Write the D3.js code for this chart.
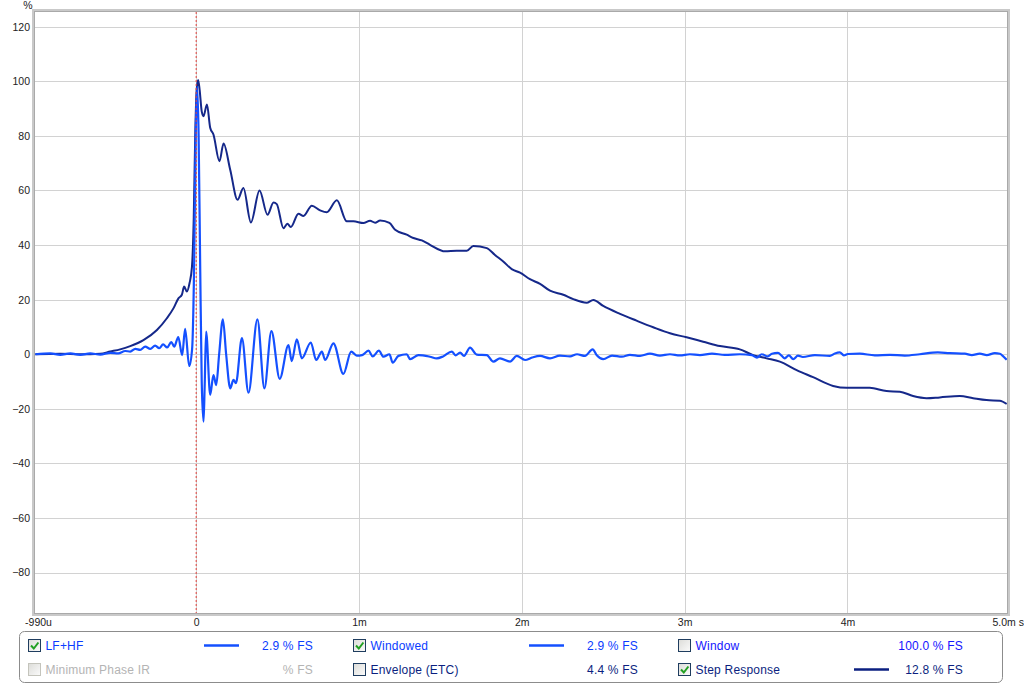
<!DOCTYPE html>
<html><head><meta charset="utf-8">
<script src="https://cdn.jsdelivr.net/npm/d3@7"></script>
<style>body{margin:0;background:#fff;} svg{display:block;font-family:"Liberation Sans",Arial,sans-serif;}</style>
</head><body><svg id="chart" width="1024" height="684"></svg>
<script>
// ---- data (time in ms, value in %) ----
const impulseT = [-0.988,-0.896,-0.835,-0.773,-0.712,-0.651,-0.589,-0.528,-0.479,-0.436,-0.405,-0.374,-0.344,-0.313,-0.282,-0.252,-0.227,-0.203,-0.178,-0.153,-0.135,-0.110,-0.086,-0.068,-0.043,-0.025,-0.012,-0.003,0.006,0.015,0.025,0.034,0.045,0.052,0.061,0.086,0.106,0.123,0.141,0.164,0.184,0.209,0.229,0.244,0.281,0.321,0.376,0.419,0.462,0.513,0.567,0.587,0.618,0.649,0.704,0.737,0.772,0.792,0.843,0.904,0.952,0.986,1.019,1.058,1.084,1.122,1.150,1.187,1.207,1.242,1.293,1.314,1.365,1.436,1.478,1.516,1.570,1.593,1.621,1.645,1.682,1.723,1.785,1.825,1.866,1.928,1.969,2.020,2.063,2.112,2.173,2.234,2.296,2.339,2.388,2.435,2.462,2.500,2.554,2.615,2.664,2.726,2.787,2.848,2.910,2.971,3.032,3.094,3.168,3.247,3.339,3.413,3.444,3.474,3.511,3.536,3.573,3.597,3.615,3.640,3.667,3.696,3.726,3.800,3.892,3.923,3.953,3.978,4.002,4.076,4.168,4.260,4.352,4.444,4.555,4.628,4.721,4.764,4.813,4.856,4.905,4.936,4.954,4.978];
const impulseV = [0,0.3,-0.2,0.3,-0.2,0.3,-0.1,0.5,0.3,1.2,1.0,2.0,1.6,2.8,2.0,3.2,2.2,3.6,2.5,4.5,2.8,6.3,-0.3,9.3,-4.3,2,35,80,98,80,30,-10,-24.7,-12,8.3,-14.9,-7.6,-11.3,0,12.8,0,-12.5,-9.4,-10.6,5.9,-14.1,12.8,-12.5,8.5,-9.0,3.4,-2.5,5.5,-1.5,4.3,-2.1,1.0,-2.1,4.0,-7.2,1.0,-0.5,-0.3,1.3,-0.8,1.3,-0.9,0,-3.1,-0.6,0,-1.8,-0.3,-0.9,-1.5,-0.8,1.0,-0.4,0.6,-0.6,2.4,-0.1,-0.3,-2.7,-1.5,-2.7,-0.6,-2.1,-1.2,-0.6,-1.5,-0.5,-0.8,0,-0.6,1.8,-0.5,-1.8,-0.5,-0.9,-0.2,-0.6,0.2,-0.5,0,-0.4,0,-0.3,0.2,-0.2,0,-0.3,-1.2,0,-0.8,0.2,0.5,-0.6,-1.5,-0.4,-1.8,-0.5,-1.0,-0.3,-0.6,0.3,0.7,-0.4,0.1,0.2,-0.4,-0.2,-0.5,0,0.7,0.4,0.2,-0.3,0.2,-0.3,0.4,0.2,-0.6,-2.0];
const stepT = [-0.988,-0.835,-0.712,-0.589,-0.528,-0.467,-0.405,-0.324,-0.241,-0.180,-0.139,-0.109,-0.088,-0.074,-0.057,-0.041,-0.026,-0.015,-0.006,0.003,0.012,0.021,0.034,0.045,0.066,0.086,0.106,0.143,0.168,0.209,0.254,0.290,0.336,0.389,0.438,0.475,0.495,0.536,0.560,0.581,0.628,0.659,0.710,0.761,0.802,0.864,0.925,0.966,1.027,1.068,1.099,1.130,1.187,1.222,1.293,1.334,1.386,1.436,1.529,1.600,1.662,1.702,1.785,1.835,1.886,1.938,1.989,2.050,2.112,2.173,2.255,2.316,2.398,2.439,2.500,2.603,2.705,2.807,2.910,3.012,3.114,3.217,3.339,3.421,3.503,3.585,3.688,3.789,3.912,3.994,4.137,4.240,4.322,4.403,4.486,4.567,4.690,4.772,4.854,4.936,4.978];
const stepV = [0,0.2,0,0.2,1,1.8,3,5.2,8.9,13.2,16.9,20.5,21.8,24.8,23,26,32,50,80,97,100.5,97,89,87.2,91.5,83,80.5,70.7,77.2,67.6,56.6,60.9,48.3,60.0,51.1,55.6,55,46.2,47.8,46.6,51.5,50.7,54.4,52.7,52.0,56.4,48.7,48.7,48.1,48.9,48.2,49,48.1,45.6,43.8,42.6,41.7,40.1,37.7,37.9,37.9,39.7,38.9,36.4,34,31.2,29.9,27.5,25.8,23.3,21.8,20.2,18.9,19.9,17.7,14.8,12.3,9.9,7.7,6.2,4.6,3.0,1.8,-0.3,-1.5,-2.7,-5.8,-8.4,-11.6,-12.3,-12.3,-13.5,-13.7,-15.3,-16.1,-15.8,-15.3,-16.1,-16.8,-17,-18.2];
const yTicks = [-80,-60,-40,-20,0,20,40,60,80,100,120];
const xTicks = [-0.99,0,1,2,3,4,4.98];
const xTickLabels = ["-990u","0","1m","2m","3m","4m","5.0m s"];
const legendLabels = ["LF+HF","Minimum Phase IR","Windowed","Envelope (ETC)","Window","Step Response"];
const legendValues = ["2.9 % FS","% FS","2.9 % FS","4.4 % FS","100.0 % FS","12.8 % FS"];
const legendChecked = [true,false,true,false,false,true];

// ---- layout & styles ----
const L = 35, T = 12, R = 1007, B = 613;
const svg = d3.select("#chart");
const x = d3.scaleLinear().domain([-0.99, 4.98]).range([L, R]);
const y = d3.scaleLinear().domain([-94.8, 125.4]).range([B, T]);
const blue = "#1450ff", navy = "#15288a";

// gridlines
const grid = svg.append("g");
grid.selectAll("line.h").data(yTicks).join("line")
  .attr("x1", L).attr("x2", R).attr("y1", d => Math.round(y(d)) + 0.5).attr("y2", d => Math.round(y(d)) + 0.5)
  .attr("stroke", "#d2d2d2").attr("stroke-width", 1);
grid.selectAll("line.v").data(xTicks.slice(1, 6)).join("line")
  .attr("y1", T).attr("y2", B).attr("x1", d => Math.round(x(d)) + 0.5).attr("x2", d => Math.round(x(d)) + 0.5)
  .attr("stroke", "#d2d2d2").attr("stroke-width", 1);

// axis labels via d3 axes
const yAxis = d3.axisLeft(y).tickValues(yTicks).tickSize(0).tickPadding(4).tickFormat(d3.format("d"));
const gy = svg.append("g").attr("transform", `translate(${L - 1},0)`).call(yAxis);
gy.select(".domain").remove();
gy.selectAll("text").attr("font-size", 10.5).attr("fill", "#222").attr("font-family", "Liberation Sans, Arial, sans-serif");

const xAxis = d3.axisBottom(x).tickValues(xTicks).tickSize(0).tickPadding(6)
  .tickFormat((d, i) => xTickLabels[i]);
const gx = svg.append("g").attr("transform", `translate(0,${B})`).call(xAxis);
gx.select(".domain").remove();
gx.selectAll("text").attr("font-size", 10.5).attr("fill", "#222").attr("font-family", "Liberation Sans, Arial, sans-serif");
gx.selectAll(".tick").filter((d, i) => i === 0).select("text").attr("dx", 3);
gx.selectAll(".tick").filter((d, i) => i === xTicks.length - 1).select("text").attr("text-anchor", "start").attr("dx", -15);

svg.append("text").attr("x", 28).attr("y", 9).attr("text-anchor", "middle")
  .attr("font-size", 10.5).attr("fill", "#222").text("%");

// clip
svg.append("clipPath").attr("id", "clip").append("rect")
  .attr("x", L).attr("y", T).attr("width", R - L).attr("height", B - T);

const line = d3.line().x(d => x(d[0])).y(d => y(d[1])).curve(d3.curveMonotoneX);
const stepData = stepT.map((t, i) => [t, stepV[i]]);
const impData = impulseT.map((t, i) => [t, impulseV[i]]);
const plot = svg.append("g").attr("clip-path", "url(#clip)");
plot.append("path").datum(stepData).attr("d", line).attr("fill", "none")
  .attr("stroke", navy).attr("stroke-width", 2).attr("stroke-linejoin", "round");
plot.append("path").datum(impData).attr("d", line).attr("fill", "none")
  .attr("stroke", blue).attr("stroke-width", 2.2).attr("stroke-linejoin", "round");

// red dotted t=0 marker
svg.append("line").attr("x1", x(0)).attr("x2", x(0)).attr("y1", T).attr("y2", B)
  .attr("stroke", "#e2403a").attr("stroke-width", 1).attr("stroke-dasharray", "2,2");

// frame
svg.append("rect").attr("x", L - 1.5).attr("y", T - 1.5).attr("width", R - L + 3).attr("height", B - T + 3)
  .attr("fill", "none").attr("stroke", "#c9c9c9").attr("stroke-width", 3);
svg.append("rect").attr("x", L - 0.5).attr("y", T - 0.5).attr("width", R - L + 1).attr("height", B - T + 1)
  .attr("fill", "none").attr("stroke", "#a9a9a9").attr("stroke-width", 1);

// ---- legend ----
svg.append("rect").attr("x", 19.5).attr("y", 631.5).attr("width", 983).attr("height", 51).attr("rx", 5)
  .attr("fill", "none").attr("stroke", "#8c8c8c").attr("stroke-width", 1);
const defs = svg.append("defs");
const grad = defs.append("linearGradient").attr("id", "cb").attr("x1", 0).attr("y1", 0).attr("x2", 1).attr("y2", 1);
grad.append("stop").attr("offset", "0%").attr("stop-color", "#dcdcd8");
grad.append("stop").attr("offset", "100%").attr("stop-color", "#fbfbfb");

const colX = [28.5, 353.5, 678.5];
const rowY = [639.5, 663.5];
const textCol = ["#0a3cff", "#b4b4b4", "#0a3cff", "#0b1f80", "#1414ff", "#0b1f80"];
const sampleCol = [blue, null, blue, null, null, "#0b1f80"];
const sampleX = [204, 0, 529, 0, 0, 854];
const valueRight = [313, 313, 638, 638, 963, 963];
legendLabels.forEach((lab, i) => {
  const c = Math.floor(i / 2), r = i % 2;
  const g = svg.append("g");
  const disabled = i === 1;
  g.append("rect").attr("x", colX[c]).attr("y", rowY[r]).attr("width", 12).attr("height", 12)
    .attr("fill", "url(#cb)").attr("stroke", disabled ? "#c4c4bc" : "#1f3d5f").attr("stroke-width", 1);
  if (legendChecked[i]) {
    g.append("path").attr("d", `M${colX[c] + 2.5},${rowY[r] + 6} l2.8,3 l4.6,-6`)
      .attr("fill", "none").attr("stroke", "#22a022").attr("stroke-width", 2);
  }
  g.append("text").attr("x", colX[c] + 17).attr("y", rowY[r] + 10.5).attr("font-size", 12)
    .attr("fill", textCol[i]).attr("letter-spacing", 0.2).text(lab);
  if (sampleCol[i]) {
    g.append("line").attr("x1", sampleX[i]).attr("x2", sampleX[i] + 35).attr("y1", rowY[r] + 6).attr("y2", rowY[r] + 6)
      .attr("stroke", sampleCol[i]).attr("stroke-width", 2.5);
  }
  g.append("text").attr("x", valueRight[i]).attr("y", rowY[r] + 10.5).attr("font-size", 12)
    .attr("text-anchor", "end").attr("fill", textCol[i]).attr("letter-spacing", 0.2).text(legendValues[i]);
});
</script>
</body></html>
